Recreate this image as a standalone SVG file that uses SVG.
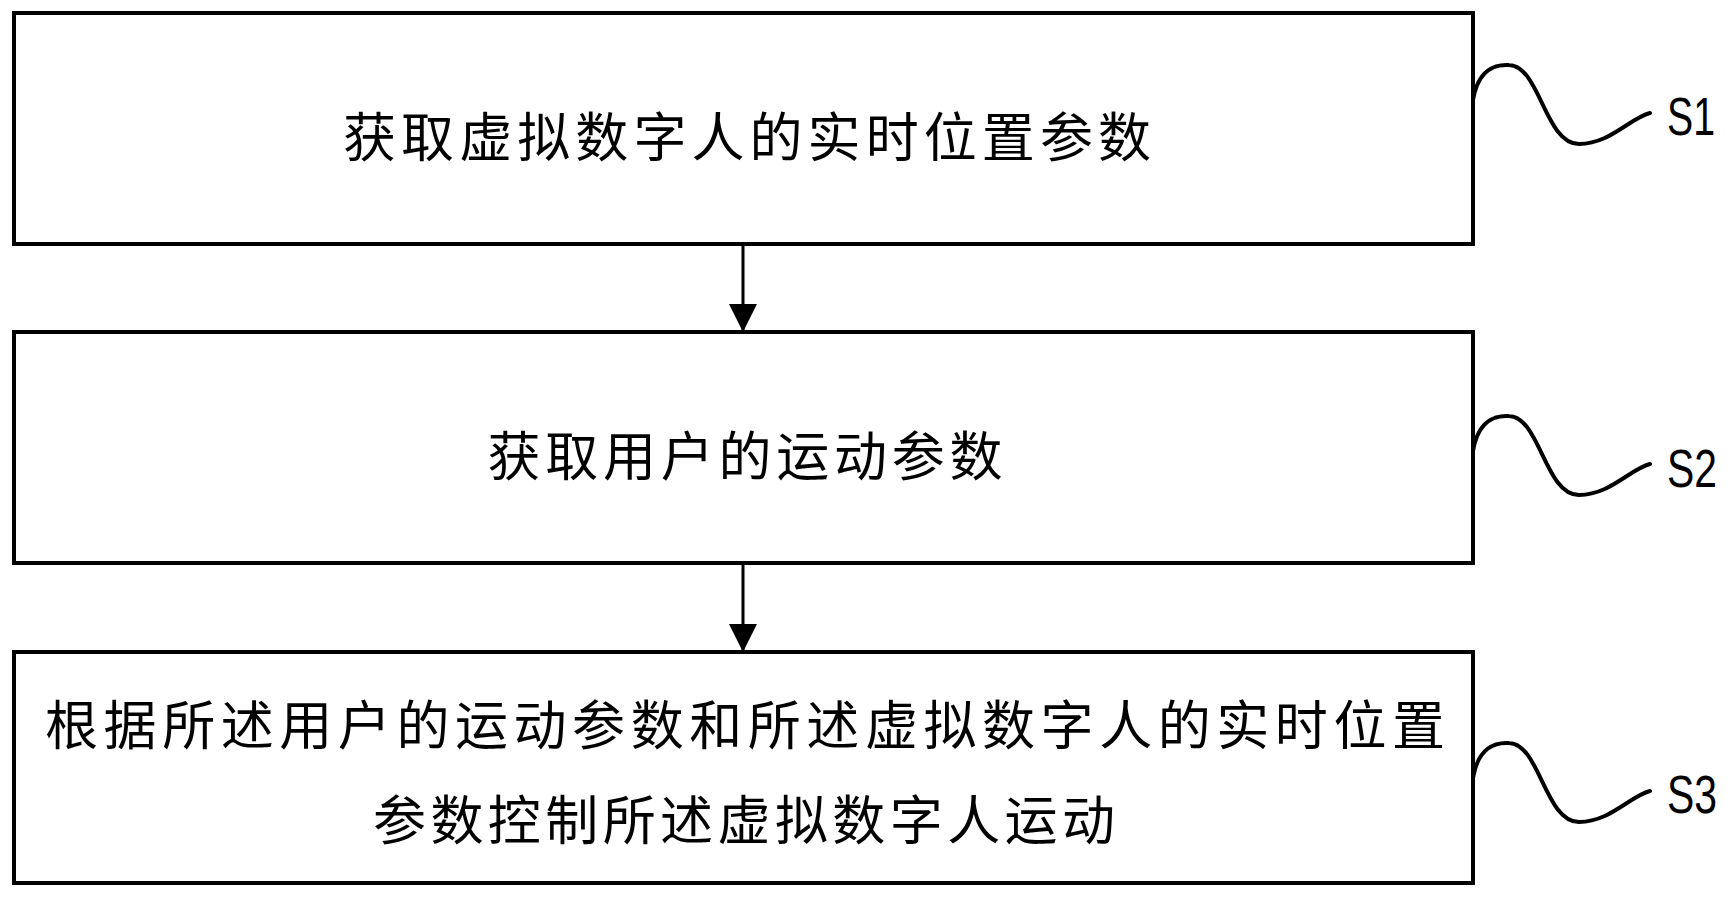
<svg xmlns="http://www.w3.org/2000/svg" width="1736" height="897" viewBox="0 0 1736 897">
<style>
.box{fill:#fff;stroke:#000;stroke-width:4}
.t{font-family:"Noto Sans CJK SC","Noto Sans CJK JP",serif;font-size:53px;fill:#000;text-anchor:middle;dominant-baseline:central}
.s{font-family:"Liberation Sans",Arial,sans-serif;font-size:54px;fill:#000}
.w{fill:none;stroke:#000;stroke-width:4;stroke-linecap:round}
.c{stroke:#000;stroke-width:3;fill:none}
</style>
<defs>
<marker id="ah" viewBox="0 0 28 28" refX="27" refY="14" markerWidth="28" markerHeight="28" markerUnits="userSpaceOnUse" orient="auto"><path d="M0,0 L28,14 L0,28 z" fill="#000"/></marker></defs>
<rect width="1736" height="897" fill="#fff"/>
<g id="n1"><rect class="box" x="14" y="13" width="1459" height="231"/><text class="t" x="747" y="134" textLength="808" lengthAdjust="spacing">获取虚拟数字人的实时位置参数</text>
<path class="w" d="M1473,100 C1478,70 1495,64 1509,65 C1540,66 1545,144 1579,144 C1610,144 1630,118 1650,113"/><text class="s" x="1667" y="135" textLength="48" lengthAdjust="spacingAndGlyphs">S1</text></g>
<g id="n2"><rect class="box" x="14" y="332" width="1459" height="231"/><text class="t" x="745" y="453" textLength="515" lengthAdjust="spacing">获取用户的运动参数</text>
<path class="w" d="M1473,451 C1478,421 1495,415 1509,416 C1540,417 1545,495 1579,495 C1610,495 1630,469 1650,464"/><text class="s" x="1667" y="487" textLength="50" lengthAdjust="spacingAndGlyphs">S2</text></g>
<g id="n3"><rect class="box" x="14" y="652" width="1459" height="231"/><text class="t" x="745" y="722" textLength="1400" lengthAdjust="spacing">根据所述用户的运动参数和所述虚拟数字人的实时位置</text><text class="t" x="744" y="817" textLength="742" lengthAdjust="spacing">参数控制所述虚拟数字人运动</text>
<path class="w" d="M1473,778 C1478,748 1495,742 1509,743 C1540,744 1545,822 1579,822 C1610,822 1630,796 1650,791"/><text class="s" x="1667" y="813" textLength="50" lengthAdjust="spacingAndGlyphs">S3</text></g>
<g id="connectors"><line class="c" x1="743" y1="244" x2="743" y2="331" marker-end="url(#ah)"/><line class="c" x1="743" y1="563" x2="743" y2="651" marker-end="url(#ah)"/></g>
</svg>
